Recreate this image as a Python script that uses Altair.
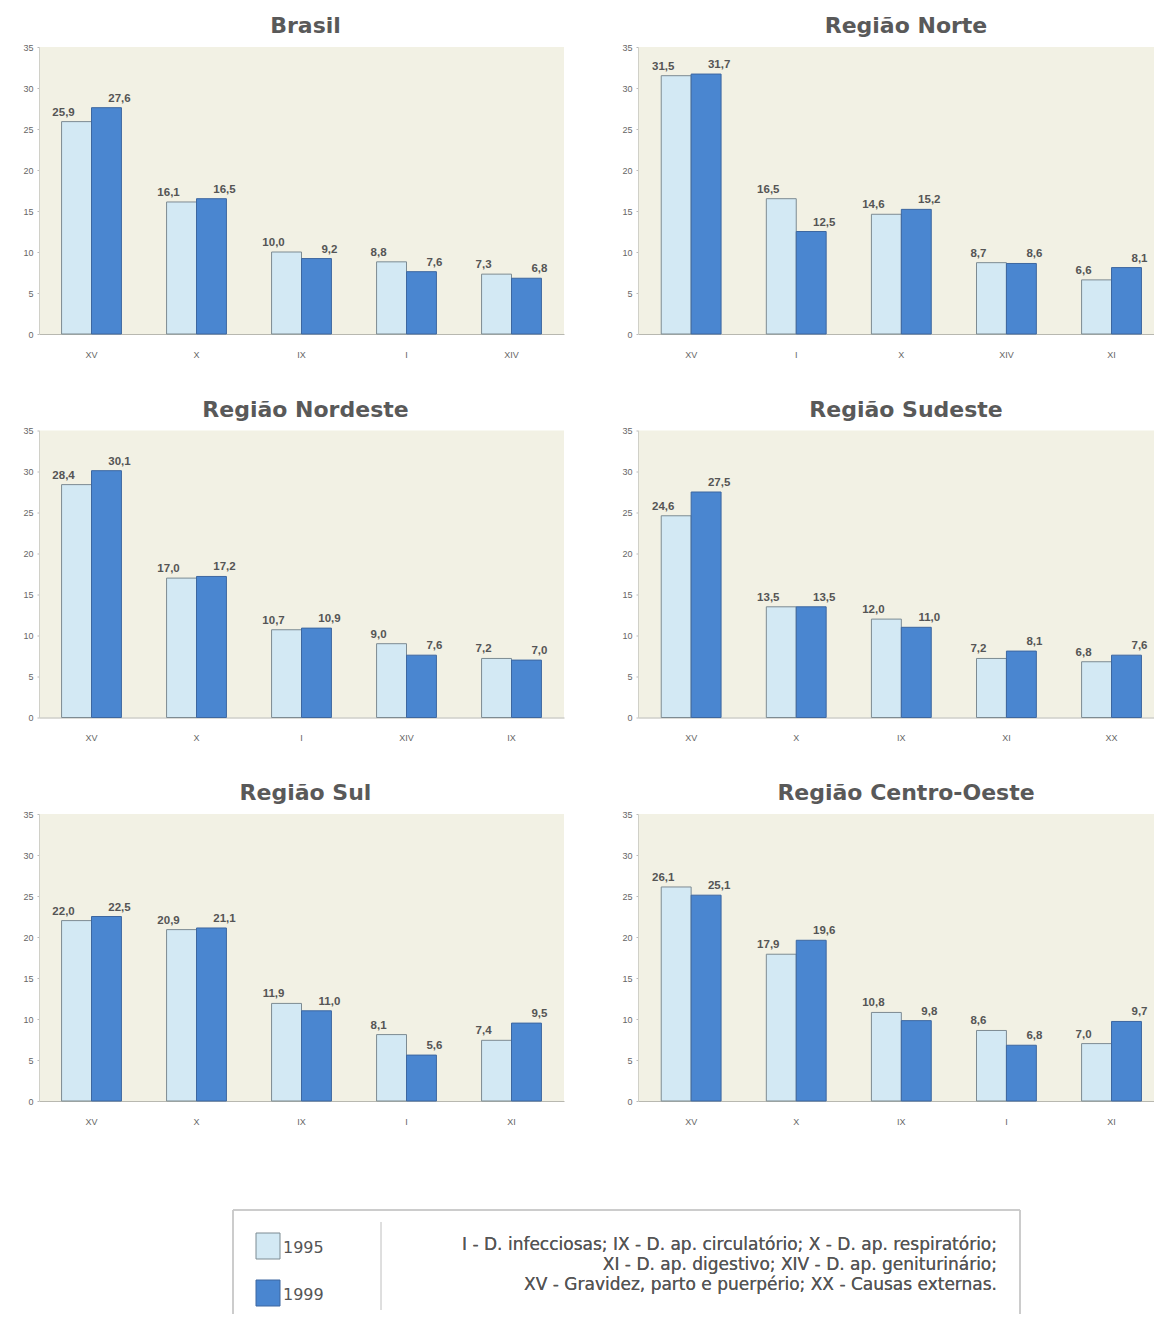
import altair as alt
import pandas as pd

# Internações por grupo de causas (%), 1995 e 1999
years = ["1995", "1999"]
fills = ["#d3e9f4", "#4a86d0"]
strokes = ["#7d8b92", "#3d67a0"]

regions = ["Brasil", "Região Norte", "Região Nordeste",
           "Região Sudeste", "Região Sul", "Região Centro-Oeste"]

causes_brasil = ["XV", "X", "IX", "I", "XIV"]
v1995_brasil = [25.9, 16.1, 10.0, 8.8, 7.3]
v1999_brasil = [27.6, 16.5, 9.2, 7.6, 6.8]

causes_norte = ["XV", "I", "X", "XIV", "XI"]
v1995_norte = [31.5, 16.5, 14.6, 8.7, 6.6]
v1999_norte = [31.7, 12.5, 15.2, 8.6, 8.1]

causes_nordeste = ["XV", "X", "I", "XIV", "IX"]
v1995_nordeste = [28.4, 17.0, 10.7, 9.0, 7.2]
v1999_nordeste = [30.1, 17.2, 10.9, 7.6, 7.0]

causes_sudeste = ["XV", "X", "IX", "XI", "XX"]
v1995_sudeste = [24.6, 13.5, 12.0, 7.2, 6.8]
v1999_sudeste = [27.5, 13.5, 11.0, 8.1, 7.6]

causes_sul = ["XV", "X", "IX", "I", "XI"]
v1995_sul = [22.0, 20.9, 11.9, 8.1, 7.4]
v1999_sul = [22.5, 21.1, 11.0, 5.6, 9.5]

causes_co = ["XV", "X", "IX", "I", "XI"]
v1995_co = [26.1, 17.9, 10.8, 8.6, 7.0]
v1999_co = [25.1, 19.6, 9.8, 6.8, 9.7]

y_ticks = [0, 5, 10, 15, 20, 25, 30, 35]

notes = [
    "I - D. infecciosas; IX - D. ap. circulatório; X - D. ap. respiratório;",
    "XI - D. ap. digestivo; XIV - D. ap. geniturinário;",
    "XV - Gravidez, parto e puerpério; XX - Causas externas.",
]

FONT = "Liberation Sans"
WIDE = "DejaVu Sans"
PANEL_H = 287
BG = "#f2f1e4"


def fmt(v):
    return f"{v:.1f}".replace(".", ",")


def panel(title, causes, a, b, width, outer, align, title_dx):
    rows = []
    for c, va, vb in zip(causes, a, b):
        rows.append({"causa": c, "ano": years[0], "valor": va, "rotulo": fmt(va)})
        rows.append({"causa": c, "ano": years[1], "valor": vb, "rotulo": fmt(vb)})
    df = pd.DataFrame(rows)

    base = alt.Chart(df).encode(
        x=alt.X("causa:N", sort=causes, title=None,
                scale=alt.Scale(paddingInner=0.43, paddingOuter=outer, align=align),
                axis=alt.Axis(labelAngle=0, ticks=False, labelPadding=16,
                              labelFontSize=9, labelColor="#666", domainColor="#b8b8b0")),
        xOffset=alt.XOffset("ano:N", sort=years, scale=alt.Scale(paddingInner=0, paddingOuter=0)),
        y=alt.Y("valor:Q", title=None,
                scale=alt.Scale(domain=[0, 35], nice=False, zero=True),
                axis=alt.Axis(values=y_ticks, grid=False, tickSize=2, tickColor="#bbb",
                              labelFontSize=9, labelColor="#666", labelPadding=4,
                              domainColor="#d0d0c8")),
    )

    bars = base.mark_bar(strokeWidth=1).encode(
        color=alt.Color("ano:N", scale=alt.Scale(domain=years, range=fills), legend=None),
        stroke=alt.Stroke("ano:N", scale=alt.Scale(domain=years, range=strokes), legend=None),
    )

    lab_a = base.transform_filter(alt.datum.ano == years[0]).mark_text(
        font=FONT, fontSize=11.5, fontWeight="bold", color="#555",
        baseline="bottom", dy=-4, dx=-13,
    ).encode(text="rotulo:N")
    lab_b = base.transform_filter(alt.datum.ano == years[1]).mark_text(
        font=FONT, fontSize=11.5, fontWeight="bold", color="#555",
        baseline="bottom", dy=-4, dx=13,
    ).encode(text="rotulo:N")

    return alt.layer(bars, lab_a, lab_b).properties(
        width=width, height=PANEL_H,
        title=alt.TitleParams(title, fontSize=22, fontWeight="bold", color="#595959",
                              font=WIDE, anchor="middle", offset=5, dx=title_dx),
        view=alt.ViewBackground(fill=BG, stroke=None),
    )


LW, RW = 525, 516
p_brasil = panel(regions[0], causes_brasil, v1995_brasil, v1999_brasil, LW, 0.215, 0.5, 4)
p_norte = panel(regions[1], causes_norte, v1995_norte, v1999_norte, RW, 0.17, 0.65, 10)
p_nordeste = panel(regions[2], causes_nordeste, v1995_nordeste, v1999_nordeste, LW, 0.215, 0.5, 4)
p_sudeste = panel(regions[3], causes_sudeste, v1995_sudeste, v1999_sudeste, RW, 0.17, 0.65, 10)
p_sul = panel(regions[4], causes_sul, v1995_sul, v1999_sul, LW, 0.215, 0.5, 4)
p_co = panel(regions[5], causes_co, v1995_co, v1999_co, RW, 0.17, 0.65, 10)

grid = alt.vconcat(
    alt.hconcat(p_brasil, p_norte, spacing=57),
    alt.hconcat(p_nordeste, p_sudeste, spacing=57),
    alt.hconcat(p_sul, p_co, spacing=57),
    spacing=39.5,
)

# Key box: swatches, year labels and the cause-code notes
LEG_W, LEG_H = 1000, 104
box_l, box_r = 194, 981
key = pd.DataFrame({"ano": years, "fill": fills, "stroke": strokes})

layers = [
    alt.Chart(key).mark_rule(color="#c8c8c8", strokeWidth=1.5).encode(
        x=alt.value(box_l), x2=alt.value(box_r), y=alt.value(0)),
    alt.Chart(key).mark_rule(color="#c8c8c8", strokeWidth=1.5).encode(
        x=alt.value(box_l), y=alt.value(0), y2=alt.value(LEG_H)),
    alt.Chart(key).mark_rule(color="#c8c8c8", strokeWidth=1.5).encode(
        x=alt.value(box_r), y=alt.value(0), y2=alt.value(LEG_H)),
    alt.Chart(key).mark_rule(color="#d4d4d4", strokeWidth=1).encode(
        x=alt.value(342), y=alt.value(12), y2=alt.value(100)),
]
for i, yr in enumerate(years):
    top = 23 + 47 * i
    layers.append(
        alt.Chart(key).transform_filter(alt.datum.ano == yr).mark_rect(
            fill=fills[i], stroke=strokes[i], strokeWidth=1).encode(
            x=alt.value(217), x2=alt.value(241), y=alt.value(top), y2=alt.value(top + 26)))
    layers.append(
        alt.Chart(key).transform_filter(alt.datum.ano == yr).mark_text(
            font=WIDE, fontSize=16, color="#555", align="left", baseline="middle").encode(
            text="ano:N", x=alt.value(244), y=alt.value(top + 15)))
for i, line in enumerate(notes):
    layers.append(
        alt.Chart(key).mark_text(
            text=line, font=WIDE, fontSize=17, color="#555",
            align="right", baseline="middle").encode(
            x=alt.value(958), y=alt.value(35 + 20 * i)))

legend_box = alt.layer(*layers).properties(
    width=LEG_W, height=LEG_H, view=alt.ViewBackground(fill=None, stroke=None))

chart = alt.vconcat(grid, legend_box, spacing=83).properties(
    padding={"left": 22, "top": 15, "right": 0, "bottom": 0},
    background="white",
).configure_view(stroke=None).configure_axis(labelFont=FONT)

chart.save("out.html", embed_options={"renderer": "svg", "actions": False})
